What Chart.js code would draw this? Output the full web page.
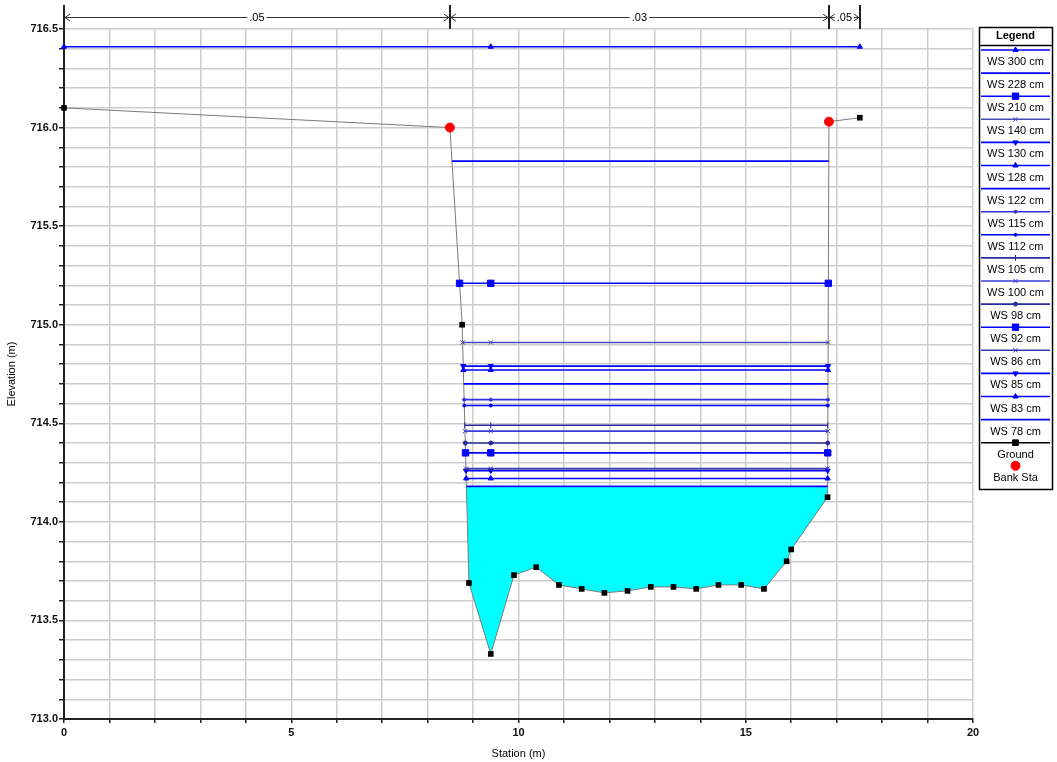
<!DOCTYPE html>
<html>
<head>
<meta charset="utf-8">
<title>Cross section</title>
<script src="https://cdn.jsdelivr.net/npm/chart.js@4.4.0/dist/chart.umd.min.js"></script>
<style>
  html, body { margin: 0; padding: 0; background: #fff; }
</style>
</head>
<body>
<canvas id="xsChart" width="1057" height="762"></canvas>
<script>
// ground points of the section
const groundSta = [0, 8.49, 8.76, 8.91, 9.39, 9.90, 10.39, 10.89, 11.39, 11.89, 12.40,
  12.91, 13.41, 13.91, 14.40, 14.90, 15.40, 15.90, 16.00, 16.80, 16.83, 17.51];
const groundElev = [716.10, 716.00, 715.00, 713.69, 713.33, 713.73, 713.77, 713.68, 713.66,
  713.64, 713.65, 713.67, 713.67, 713.66, 713.68, 713.68, 713.66, 713.80, 713.86, 714.125,
  716.03, 716.05];

const bankSta = [8.49, 16.83];
const bankElev = [716.00, 716.03];

// water surface profiles
const wsNames = ['WS 300 cm', 'WS 228 cm', 'WS 210 cm', 'WS 140 cm', 'WS 130 cm', 'WS 128 cm',
  'WS 122 cm', 'WS 115 cm', 'WS 112 cm', 'WS 105 cm', 'WS 100 cm', 'WS 98 cm', 'WS 92 cm',
  'WS 86 cm', 'WS 85 cm', 'WS 83 cm', 'WS 78 cm'];
const wsElev = [716.41, 715.83, 715.21, 714.91, 714.79, 714.77, 714.70, 714.62, 714.59,
  714.49, 714.46, 714.40, 714.35, 714.27, 714.26, 714.22, 714.18];

// manning's n across the section
const nLabels = ['.05', '.03', '.05'];
const nBreaks = [0, 8.49, 16.83, 17.51];

// look of each profile line (same order as wsNames)
const wsStyle = [
  { color: '#0000ff', marker: 'triangle', r: 3 },
  { color: '#0000ff', marker: false },
  { color: '#0000ff', marker: 'rect', r: 4.5 },
  { color: '#4848b8', marker: 'crossRot', r: 3 },
  { color: '#0000ff', marker: 'triangleDown', r: 3 },
  { color: '#0000ff', marker: 'triangle', r: 3 },
  { color: '#0000ff', marker: false },
  { color: '#3030e0', marker: 'circle', r: 1.5 },
  { color: '#0000ff', marker: 'circle', r: 1.5 },
  { color: '#2a2aa0', marker: 'line', r: 3 },
  { color: '#3a3ad8', marker: 'crossRot', r: 3 },
  { color: '#2a2aa0', marker: 'circle', r: 2 },
  { color: '#0000ff', marker: 'rect', r: 4.5 },
  { color: '#3838b0', marker: 'crossRot', r: 3 },
  { color: '#0000ff', marker: 'triangleDown', r: 3 },
  { color: '#0000ff', marker: 'triangle', r: 3 },
  { color: '#0000ff', marker: false }
];

// where a water level meets the ground on both sides of the thalweg
function wetEdges(elev) {
  const low = groundElev.indexOf(Math.min(...groundElev));
  let left = groundSta[0];
  let right = groundSta[groundSta.length - 1];
  for (let i = low; i > 0; i--) {
    if (groundElev[i - 1] >= elev) {
      const t = (elev - groundElev[i]) / (groundElev[i - 1] - groundElev[i]);
      left = groundSta[i] + t * (groundSta[i - 1] - groundSta[i]);
      break;
    }
  }
  for (let i = low; i < groundSta.length - 1; i++) {
    if (groundElev[i + 1] >= elev) {
      const t = (elev - groundElev[i]) / (groundElev[i + 1] - groundElev[i]);
      right = groundSta[i] + t * (groundSta[i + 1] - groundSta[i]);
      break;
    }
  }
  return [left, right];
}

const thalwegSta = groundSta[groundElev.indexOf(Math.min(...groundElev))];

const wsDatasets = wsNames.map((name, i) => {
  const [l, r] = wetEdges(wsElev[i]);
  const st = wsStyle[i];
  const down = st.marker === 'triangleDown';
  return {
    label: name,
    legend: true,
    data: [{ x: l, y: wsElev[i] }, { x: thalwegSta, y: wsElev[i] }, { x: r, y: wsElev[i] }],
    showLine: true,
    borderColor: st.color,
    borderWidth: 1.6,
    pointRadius: st.marker ? st.r : 0,
    pointStyle: down ? 'triangle' : (st.marker || 'circle'),
    rotation: down ? 180 : (st.marker === 'line' ? 90 : 0),
    pointBackgroundColor: st.color,
    pointBorderColor: st.color,
    pointBorderWidth: 1,
    clip: false
  };
});

// wetted area under the lowest profile
const lowIdx = wsElev.length - 1;
const [wetL, wetR] = wetEdges(wsElev[lowIdx]);
const waterPts = [{ x: wetL, y: wsElev[lowIdx] }];
groundSta.forEach((s, i) => {
  if (s > wetL && s < wetR) waterPts.push({ x: s, y: groundElev[i] });
});
waterPts.push({ x: wetR, y: wsElev[lowIdx] });

const datasets = [
  ...wsDatasets,
  {
    label: 'Ground',
    legend: true,
    data: groundSta.map((s, i) => ({ x: s, y: groundElev[i] })),
    showLine: true,
    borderColor: '#7a7a7a',
    borderWidth: 1,
    pointStyle: 'rect',
    pointRadius: 4,
    pointBackgroundColor: '#000',
    pointBorderColor: '#000',
    pointBorderWidth: 0,
    legendColor: '#000',
    clip: false
  },
  {
    label: 'Bank Sta',
    legend: true,
    data: bankSta.map((s, i) => ({ x: s, y: bankElev[i] })),
    showLine: false,
    pointStyle: 'circle',
    pointRadius: 4.5,
    pointBackgroundColor: '#ff0000',
    pointBorderColor: '#ff0000',
    order: -1
  },
  {
    label: 'water',
    legend: false,
    data: waterPts,
    showLine: true,
    borderWidth: 0,
    borderColor: 'rgba(0,0,0,0)',
    pointRadius: 0,
    backgroundColor: '#00ffff',
    fill: { value: wsElev[lowIdx] },
    order: 10
  }
];

function marker(ctx, ds, x, y) {
  if (!ds.pointRadius) return;
  ctx.fillStyle = ds.pointBackgroundColor;
  ctx.strokeStyle = ds.pointBorderColor;
  ctx.lineWidth = 1;
  Chart.helpers.drawPoint(ctx, {
    pointStyle: ds.pointStyle,
    rotation: ds.rotation || 0,
    radius: ds.pointRadius,
    borderWidth: 1
  }, x, y);
}

const nValueBar = {
  id: 'nValueBar',
  afterDraw(chart) {
    const ctx = chart.ctx;
    const xs = chart.scales.x;
    const area = chart.chartArea;
    const y = 17;
    ctx.save();
    ctx.strokeStyle = '#222';
    ctx.lineWidth = 2;
    ctx.beginPath();
    ctx.moveTo(area.left, area.top);
    ctx.lineTo(area.left, 5);
    ctx.stroke();
    for (let i = 1; i < nBreaks.length; i++) {
      const px = Math.round(xs.getPixelForValue(nBreaks[i]));
      ctx.beginPath();
      ctx.moveTo(px, 5);
      ctx.lineTo(px, 29);
      ctx.stroke();
    }
    ctx.lineWidth = 1;
    ctx.strokeStyle = '#333';
    ctx.fillStyle = '#000';
    ctx.font = '11px "Liberation Sans", Arial, sans-serif';
    ctx.textAlign = 'center';
    ctx.textBaseline = 'middle';
    for (let i = 0; i < nLabels.length; i++) {
      const x0 = xs.getPixelForValue(nBreaks[i]) + 1;
      const x1 = xs.getPixelForValue(nBreaks[i + 1]) - 1;
      const mid = (x0 + x1) / 2;
      const half = ctx.measureText(nLabels[i]).width / 2 + 2;
      ctx.beginPath();
      ctx.moveTo(x0, y + 0.5);
      ctx.lineTo(mid - half, y + 0.5);
      ctx.moveTo(mid + half, y + 0.5);
      ctx.lineTo(x1, y + 0.5);
      ctx.moveTo(x0 + 5, y - 3);
      ctx.lineTo(x0, y + 0.5);
      ctx.lineTo(x0 + 5, y + 4);
      ctx.moveTo(x1 - 5, y - 3);
      ctx.lineTo(x1, y + 0.5);
      ctx.lineTo(x1 - 5, y + 4);
      ctx.stroke();
      ctx.fillText(nLabels[i], mid, y + 1);
    }
    ctx.restore();
  }
};

const legendBox = {
  id: 'legendBox',
  afterDraw(chart) {
    const ctx = chart.ctx;
    const left = 979, top = 27, right = 1052, bottom = 489;
    const cx = (left + right) / 2;
    ctx.save();
    ctx.fillStyle = '#fff';
    ctx.fillRect(left, top, right - left, bottom - top);
    ctx.strokeStyle = '#000';
    ctx.lineWidth = 1.5;
    ctx.strokeRect(left + 0.5, top + 0.5, right - left, bottom - top);
    ctx.beginPath();
    ctx.moveTo(left, 45.5);
    ctx.lineTo(right, 45.5);
    ctx.stroke();
    ctx.fillStyle = '#000';
    ctx.textAlign = 'center';
    ctx.textBaseline = 'middle';
    ctx.font = 'bold 11px "Liberation Sans", Arial, sans-serif';
    ctx.fillText('Legend', cx, 36);
    ctx.font = '11px "Liberation Sans", Arial, sans-serif';
    const items = chart.data.datasets.filter(d => d.legend);
    items.forEach((ds, i) => {
      const ly = 50 + i * 23.1;
      if (ds.showLine) {
        ctx.strokeStyle = ds.legendColor || ds.borderColor;
        ctx.lineWidth = 1.6;
        ctx.beginPath();
        ctx.moveTo(left + 2, ly);
        ctx.lineTo(right - 2, ly);
        ctx.stroke();
      }
      marker(ctx, ds, cx, ly);
      ctx.fillStyle = '#000';
      ctx.fillText(ds.label, cx, ly + 12);
    });
    ctx.restore();
  }
};

const tickFont = { family: '"Liberation Sans", Arial, sans-serif', size: 11, weight: 'bold' };
const titleFont = { family: '"Liberation Sans", Arial, sans-serif', size: 11 };

new Chart(document.getElementById('xsChart'), {
  type: 'scatter',
  data: { datasets },
  options: {
    responsive: false,
    animation: false,
    events: [],
    layout: { padding: { top: 29, right: 84, left: 0, bottom: 0 } },
    plugins: { legend: { display: false }, tooltip: { enabled: false } },
    scales: {
      x: {
        type: 'linear',
        min: 0,
        max: 20,
        afterFit: s => { s.height = 43; },
        ticks: {
          stepSize: 1,
          autoSkip: false,
          maxRotation: 0,
          padding: 3,
          color: '#111',
          font: tickFont,
          callback: v => (Math.round(v) % 5 === 0 ? String(Math.round(v)) : '')
        },
        grid: { color: '#cdcdcd', lineWidth: 1.5, tickLength: 4, tickColor: '#222', tickWidth: 1.5 },
        border: { color: '#222', width: 2 },
        title: { display: true, text: 'Station (m)', color: '#000', font: titleFont, padding: { top: 0, bottom: 1 } }
      },
      y: {
        type: 'linear',
        min: 713.0,
        max: 716.5,
        afterFit: s => { s.width = 64; },
        ticks: {
          stepSize: 0.1,
          autoSkip: false,
          padding: 1,
          color: '#111',
          font: tickFont,
          callback: v => (Math.abs(v * 2 - Math.round(v * 2)) < 1e-6 ? v.toFixed(1) : '')
        },
        grid: { color: '#cdcdcd', lineWidth: 1.5, tickLength: 5, tickColor: '#222', tickWidth: 1.5 },
        border: { color: '#222', width: 2 },
        title: { display: true, text: 'Elevation (m)', color: '#000', font: titleFont, padding: { top: 5, bottom: 0 } }
      }
    }
  },
  plugins: [nValueBar, legendBox]
});
</script>
</body>
</html>
